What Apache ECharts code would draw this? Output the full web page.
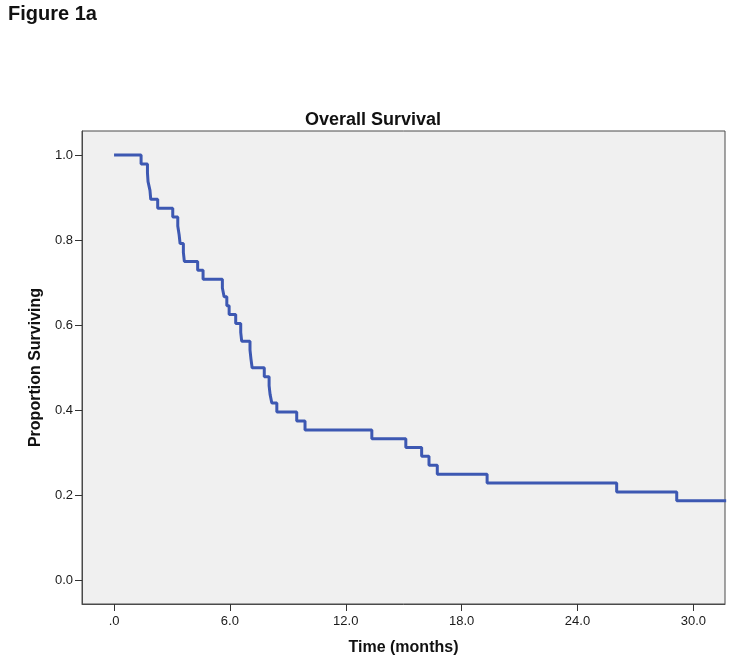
<!DOCTYPE html>
<html>
<head>
<meta charset="utf-8">
<script src="https://cdn.jsdelivr.net/npm/echarts@6/dist/echarts.min.js"></script>
<style>
html,body{margin:0;padding:0;background:#fff;}
#chart{width:735px;height:664px;}
</style>
</head>
<body>
<div id="chart"></div>
<script>
// Kaplan-Meier step data
var eventTimes = [0, 1.40, 1.73, 1.76, 1.86, 1.90, 2.26, 3.04, 3.30, 3.37, 3.42, 3.59, 3.64,
  4.33, 4.61, 5.61, 5.70, 5.84, 5.96, 6.30, 6.56, 6.61, 7.04, 7.09, 7.15, 7.78, 8.03, 8.08,
  8.17, 8.43, 9.46, 9.89, 13.35, 15.11, 15.93, 16.31, 16.74, 19.32, 26.03, 29.14, 31.7];
var survival = [1.0, 0.979, 0.958, 0.9375, 0.917, 0.896, 0.875, 0.854, 0.833, 0.8125, 0.792, 0.771, 0.75,
  0.729, 0.708, 0.6875, 0.667, 0.646, 0.625, 0.604, 0.583, 0.5625, 0.542, 0.521, 0.5, 0.479, 0.458, 0.4375,
  0.417, 0.396, 0.375, 0.354, 0.333, 0.3125, 0.292, 0.271, 0.25, 0.229, 0.208, 0.1875, 0.1875];

var xTickValues = [0, 6, 12, 18, 24, 30];
var xTickLabels = ['.0', '6.0', '12.0', '18.0', '24.0', '30.0'];
var yTickValues = [0, 0.2, 0.4, 0.6, 0.8, 1.0];
var yTickLabels = ['0.0', '0.2', '0.4', '0.6', '0.8', '1.0'];

var chartTitle = 'Overall Survival';
var figureLabel = 'Figure 1a';
var xName = 'Time (months)';
var yName = 'Proportion Surviving';

var FONT = '"Liberation Sans", Arial, sans-serif';
var seriesData = eventTimes.map(function (t, i) { return [t, survival[i]]; });

var chart = echarts.init(document.getElementById('chart'), null, {renderer: 'canvas'});
chart.setOption({
  animation: false,
  backgroundColor: '#ffffff',
  title: [
    {text: figureLabel, left: 8, top: 4, padding: 0,
     textStyle: {fontFamily: FONT, fontWeight: 'bold', fontSize: 20, color: '#111'}},
    {text: chartTitle, left: 373, top: 111, padding: 0, textAlign: 'center',
     textStyle: {fontFamily: FONT, fontWeight: 'bold', fontSize: 18, color: '#111'}}
  ],
  grid: {left: 82, right: 10, top: 131, bottom: 60, show: true,
    backgroundColor: '#f0f0f0', borderColor: '#4a4a4a', borderWidth: 1},
  xAxis: {
    type: 'value', min: -1.66, max: 31.64,
    name: xName, nameLocation: 'middle', nameGap: 36,
    nameTextStyle: {fontFamily: FONT, fontWeight: 'bold', fontSize: 16, color: '#111'},
    axisLine: {show: true, onZero: false, lineStyle: {color: '#4a4a4a', width: 1}},
    axisTick: {show: true, customValues: xTickValues, length: 7, inside: false,
      lineStyle: {color: '#333', width: 1}},
    axisLabel: {customValues: xTickValues, margin: 11, fontFamily: FONT, fontSize: 13, color: '#1a1a1a',
      formatter: function (v) { var i = xTickValues.indexOf(v); return i >= 0 ? xTickLabels[i] : ''; }},
    splitLine: {show: false}
  },
  yAxis: {
    type: 'value', min: -0.0552, max: 1.0564,
    name: yName, nameLocation: 'middle', nameGap: 37, nameRotate: 90,
    nameTextStyle: {fontFamily: FONT, fontWeight: 'bold', fontSize: 16, color: '#111'},
    axisLine: {show: true, onZero: false, lineStyle: {color: '#4a4a4a', width: 1}},
    axisTick: {show: true, customValues: yTickValues, length: 7, inside: false,
      lineStyle: {color: '#333', width: 1}},
    axisLabel: {customValues: yTickValues, margin: 9, fontFamily: FONT, fontSize: 13, color: '#1a1a1a',
      formatter: function (v) {
        for (var i = 0; i < yTickValues.length; i++) { if (Math.abs(yTickValues[i] - v) < 1e-6) return yTickLabels[i]; }
        return '';
      }},
    splitLine: {show: false}
  },
  series: [{
    type: 'line', step: 'end', data: seriesData, showSymbol: false, clip: true,
    lineStyle: {color: '#3d58b2', width: 3}, itemStyle: {color: '#3d58b2'}
  }]
});
</script>
</body>
</html>
